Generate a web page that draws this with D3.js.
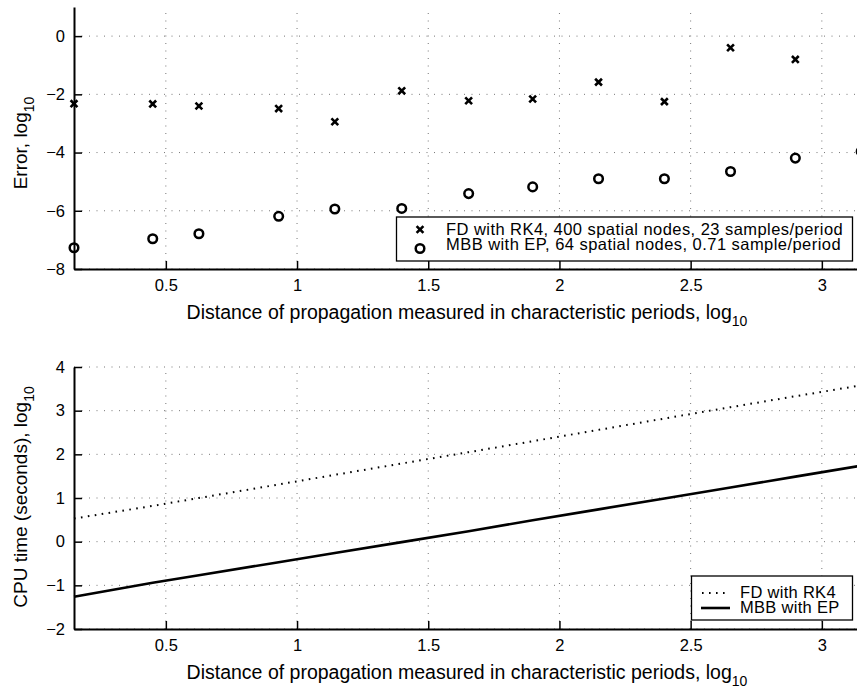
<!DOCTYPE html>
<html>
<head>
<meta charset="utf-8">
<script src="https://cdn.jsdelivr.net/npm/d3@7"></script>
<style>
  html, body { margin: 0; padding: 0; background: #fff; }
  svg { display: block; font-family: "Liberation Sans", Arial, Helvetica, sans-serif; }
</style>
</head>
<body>
<svg id="chart" width="857" height="694"></svg>
<script>
// ---- data ----
const distance = [0.15, 0.45, 0.626, 0.93, 1.144, 1.399, 1.654, 1.898, 2.149, 2.40, 2.652, 2.899, 3.15];
const errorFD  = [-2.32, -2.33, -2.40, -2.49, -2.94, -1.88, -2.22, -2.16, -1.58, -2.25, -0.40, -0.80, -0.80];
const errorMBB = [-7.27, -6.96, -6.79, -6.19, -5.94, -5.92, -5.41, -5.18, -4.90, -4.90, -4.65, -4.19, -3.96];
const cpuFD    = [0.53, 0.82, 1.00, 1.31, 1.53, 1.79, 2.05, 2.30, 2.56, 2.82, 3.08, 3.33, 3.58];
const cpuMBB   = [-1.26, -0.94, -0.77, -0.47, -0.26, -0.01, 0.24, 0.49, 0.74, 0.99, 1.24, 1.49, 1.74];
const xTicks = [0.5, 1, 1.5, 2, 2.5, 3];
const errTicks = [0, -2, -4, -6, -8];
const cpuTicks = [4, 3, 2, 1, 0, -1, -2];
const legendTop = ["FD with RK4, 400 spatial nodes, 23 samples/period", "MBB with EP, 64 spatial nodes, 0.71 sample/period"];
const legendBottom = ["FD with RK4", "MBB with EP"];
const xTitle = "Distance of propagation measured in characteristic periods, log";
const yTitleTop = "Error, log";
const yTitleBottom = "CPU time (seconds), log";

// ---- layout ----
const svg = d3.select("#chart");
const left = 74;
const x = d3.scaleLinear().domain([0.15, 3.3]).range([left, left + 3.15 * 262.4]);
const fmt = d3.format("");
const FONT = "'Liberation Sans', Arial, sans-serif";

function panel(yScale, yTicks, yTitle, yCenter) {
  const g = svg.append("g");
  const [y0, y1] = yScale.range();
  // grid
  g.append("g").selectAll("line").data(yTicks).join("line")
    .attr("x1", left).attr("x2", 857 + 50)
    .attr("y1", d => yScale(d)).attr("y2", d => yScale(d))
    .attr("stroke", "#777").attr("stroke-width", 1).attr("stroke-dasharray", "1,6.5");
  g.append("g").selectAll("line").data(xTicks).join("line")
    .attr("x1", d => x(d)).attr("x2", d => x(d))
    .attr("y1", y0).attr("y2", y1)
    .attr("stroke", "#777").attr("stroke-width", 1).attr("stroke-dasharray", "1,6.5");
  // axes
  const xa = g.append("g").attr("transform", `translate(0,${y0})`)
    .call(d3.axisBottom(x).tickValues(xTicks).tickSizeInner(-8).tickSizeOuter(0).tickPadding(10).tickFormat(fmt));
  const ya = g.append("g").attr("transform", `translate(${left},0)`)
    .call(d3.axisLeft(yScale).tickValues(yTicks).tickSizeInner(-8).tickSizeOuter(0).tickPadding(9).tickFormat(d3.format("")));
  [xa, ya].forEach(a => {
    a.select(".domain").attr("stroke", "#000").attr("stroke-width", 2);
    a.selectAll(".tick line").attr("stroke", "#000").attr("stroke-width", 1.5);
    a.selectAll(".tick text").attr("fill", "#000").attr("font-size", 16.5).attr("font-family", FONT);
  });
  // x-axis title
  const xt = g.append("text").attr("x", 467).attr("y", y0 + 50)
    .attr("text-anchor", "middle").attr("font-size", 19.5).attr("fill", "#000");
  xt.append("tspan").text(xTitle);
  xt.append("tspan").attr("dy", 7).attr("font-size", 14).text("10");
  // y-axis title
  const yt = g.append("text").attr("transform", `translate(27,${yCenter}) rotate(-90)`)
    .attr("text-anchor", "middle").attr("font-size", 19).attr("fill", "#000");
  yt.append("tspan").text(yTitle);
  yt.append("tspan").attr("dy", 7).attr("font-size", 14).text("10");
  return g;
}

// ---- top panel ----
const yTop = d3.scaleLinear().domain([-8, 1]).range([269, 7]);
const gTop = panel(yTop, errTicks, yTitleTop, 143);
const xMark = (sel, s) => sel.attr("d", `M${-s},${-s}L${s},${s}M${-s},${s}L${s},${-s}`)
  .attr("stroke", "#000").attr("stroke-width", 2.6).attr("fill", "none");
gTop.append("g").selectAll("path").data(distance).join("path")
  .attr("transform", (d, i) => `translate(${x(d)},${yTop(errorFD[i])})`)
  .call(xMark, 3.4);
gTop.append("g").selectAll("circle").data(distance).join("circle")
  .attr("cx", d => x(d)).attr("cy", (d, i) => yTop(errorMBB[i])).attr("r", 4.3)
  .attr("fill", "none").attr("stroke", "#000").attr("stroke-width", 2.5);
// legend
const lt = gTop.append("g");
lt.append("rect").attr("x", 396.5).attr("y", 217).attr("width", 456).attr("height", 44)
  .attr("fill", "#fff").attr("stroke", "#000").attr("stroke-width", 1.3);
lt.append("path").attr("transform", "translate(420,229.5)").call(xMark, 3.4);
lt.append("circle").attr("cx", 420).attr("cy", 248.5).attr("r", 4.3)
  .attr("fill", "none").attr("stroke", "#000").attr("stroke-width", 2.5);
lt.selectAll("text").data(legendTop).join("text")
  .attr("x", 446).attr("y", (d, i) => 234.5 + i * 15).attr("font-size", 16.5)
  .attr("letter-spacing", 0.45).attr("fill", "#000").text(d => d);

// ---- bottom panel ----
const yBot = d3.scaleLinear().domain([-2, 4]).range([629, 367]);
const gBot = panel(yBot, cpuTicks, yTitleBottom, 497);
const line = d3.line().x((d, i) => x(distance[i])).y(d => yBot(d));
gBot.append("path").datum(cpuFD).attr("d", line).attr("fill", "none")
  .attr("stroke", "#000").attr("stroke-width", 2).attr("stroke-dasharray", "1.6,5.4");
gBot.append("path").datum(cpuMBB).attr("d", line).attr("fill", "none")
  .attr("stroke", "#000").attr("stroke-width", 2.6);
const lb = gBot.append("g");
lb.append("rect").attr("x", 691.5).attr("y", 576).attr("width", 161).attr("height", 44)
  .attr("fill", "#fff").attr("stroke", "#000").attr("stroke-width", 1.3);
lb.append("line").attr("x1", 702).attr("x2", 730).attr("y1", 593).attr("y2", 593)
  .attr("stroke", "#000").attr("stroke-width", 2).attr("stroke-dasharray", "1.6,5.4");
lb.append("line").attr("x1", 701).attr("x2", 730).attr("y1", 608).attr("y2", 608)
  .attr("stroke", "#000").attr("stroke-width", 2.6);
lb.selectAll("text").data(legendBottom).join("text")
  .attr("x", 740).attr("y", (d, i) => 597.5 + i * 15).attr("font-size", 16.5)
  .attr("letter-spacing", 0.3).attr("fill", "#000").text(d => d);
</script>
</body>
</html>
